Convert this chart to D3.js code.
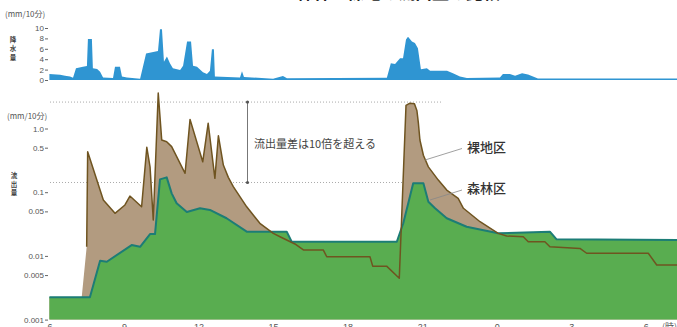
<!DOCTYPE html>
<html>
<head>
<meta charset="utf-8">
<script src="https://cdn.jsdelivr.net/npm/d3@7"></script>
<style>
  html, body { margin: 0; padding: 0; background: #ffffff; }
  svg { display: block; font-family: "Noto Sans CJK JP", "Noto Sans", sans-serif; }
</style>
</head>
<body>
<svg id="chart" width="677" height="327"></svg>
<script>
// Time axis: hours elapsed since 6:00 on day one
const hourTicks = [0, 3, 6, 9, 12, 15, 18, 21, 24];
const hourLabels = ["6", "9", "12", "15", "18", "21", "0", "3", "6"];

// Rainfall (mm / 10 min)
const rainHours = [0, 0.43, 0.63, 0.83, 0.95, 1.07, 1.35, 1.51, 1.55, 1.71, 1.75, 1.92, 2.04, 2.16, 2.56, 2.64, 2.84, 2.92, 3.12, 3.65,
  3.89, 4.37, 4.45, 4.53, 4.61, 4.73, 4.85, 4.97, 5.26, 5.38, 5.54, 5.70, 5.78, 5.94, 6.18, 6.34, 6.46, 6.54, 6.62, 6.66,
  7.67, 7.75, 7.83, 9.0, 9.40, 9.56, 13.58, 13.74, 13.91, 14.11, 14.23, 14.35, 14.43, 14.59, 14.71, 14.83, 14.95, 15.19, 15.32,
  16.0, 16.24, 16.52, 16.8, 18.13, 18.25, 18.53, 18.74, 19.02, 19.26, 19.66, 25.3];
const rainValues = [1.15, 1.0, 0.8, 0.65, 0.45, 2.25, 2.55, 2.7, 7.9, 7.9, 2.25, 2.1, 1.6, 0.5, 0.4, 2.55, 2.55, 0.65, 0.5, 0.25,
  5.1, 5.6, 9.75, 9.75, 3.5, 4.5, 3.2, 2.25, 1.9, 2.75, 7.4, 7.4, 2.75, 2.55, 1.5, 1.15, 1.8, 5.9, 5.9, 0.65,
  0.5, 1.7, 0.6, 0.25, 0.75, 0.35, 0.45, 3.2, 3.1, 4.2, 4.2, 7.8, 8.3, 7.4, 7.1, 6.1, 2.05, 2.25, 1.8,
  1.8, 1.3, 0.65, 0.4, 0.5, 1.15, 1.15, 0.8, 1.3, 1.05, 0.3, 0.3];
const rainTicks = [0, 2, 4, 6, 8, 10];

// Runoff (mm / 10 min), bare plot
const bareHours = [0, 1.30, 1.50, 1.54, 2.17, 2.64, 3.04, 3.24, 3.71, 3.92, 4.05, 4.18, 4.38, 4.52, 4.72, 4.92, 5.46, 5.66,
  6.17, 6.39, 6.66, 6.80, 7.00, 7.20, 7.40, 7.94, 8.47, 9.01, 9.28, 9.88, 10.22, 11.02, 11.16, 12.90, 13.01, 13.57, 14.08,
  14.35, 14.51, 14.69, 14.79, 14.85, 14.91, 15.05, 15.25, 15.65, 15.99, 16.45, 16.66, 17.33, 18.06, 18.40, 19.07, 19.27,
  19.94, 20.14, 21.35, 21.62, 24.10, 24.44, 25.3];
const bareValues = [0.00224, 0.00224, 0.0139, 0.43, 0.0755, 0.0466, 0.063, 0.087, 0.059, 0.507, 0.25, 0.0366, 3.6, 0.66, 0.62, 0.52, 0.198, 1.39,
  0.30, 1.21, 0.165, 0.77, 0.267, 0.171, 0.122, 0.059, 0.0325, 0.0226, 0.020, 0.0154, 0.0124, 0.0124, 0.0097, 0.0097, 0.0069, 0.0069, 0.00445,
  2.3, 2.5, 2.45, 1.9, 1.2, 0.66, 0.38, 0.25, 0.155, 0.108, 0.080, 0.0559, 0.0344, 0.0226, 0.0205, 0.0200, 0.0167,
  0.0167, 0.0139, 0.0131, 0.011, 0.011, 0.0072, 0.0072];
const bareRecordStart = 2; // observation line begins with the first runoff record

// Runoff (mm / 10 min), forest plot
const forestHours = [0, 1.63, 2.04, 2.31, 3.31, 3.65, 4.05, 4.25, 4.45, 4.72, 4.92, 5.12, 5.53, 6.06, 6.46, 7.13, 7.94, 9.55, 9.75,
  13.98, 14.24, 14.64, 15.05, 15.25, 15.52, 15.99, 16.79, 18.06, 20.14, 20.41, 25.3];
const forestValues = [0.00224, 0.00224, 0.0084, 0.0081, 0.0148, 0.0139, 0.022, 0.022, 0.159, 0.171, 0.096, 0.067, 0.049, 0.0559, 0.0526, 0.039, 0.024, 0.024, 0.0167,
  0.0167, 0.0325, 0.138, 0.138, 0.071, 0.056, 0.039, 0.0287, 0.0226, 0.024, 0.0182, 0.0178];
const runoffTicks = [1.0, 0.5, 0.1, 0.05, 0.01, 0.005, 0.001];
const runoffTickLabels = ["1.0", "0.5", "0.1", "0.05", "0.01", "0.005", "0.001"];

// Reference levels for the difference bracket
const peakLevels = [2.6, 0.142];

const svg = d3.select("#chart");

const x = d3.scaleLinear().domain([0, 24]).range([49.4, 645.8]);
const yRain = d3.scaleLinear().domain([0, 10]).range([80, 28]);
const yRun = d3.scaleLog().domain([0.001, 1]).range([319.6, 128.5]);

const zip = (hs, vs) => hs.map((h, i) => ({ h, v: vs[i] }));
const rain = zip(rainHours, rainValues);
const bare = zip(bareHours, bareValues);
const forest = zip(forestHours, forestValues);

// Title strip running off the top edge of the page
svg.append("text")
  .attr("x", 296).attr("y", -1)
  .attr("font-size", 17).attr("font-weight", 700).attr("fill", "#222")
  .text("森林と裸地の流出量の比較");

// ---------- Rainfall panel ----------
svg.append("path")
  .datum(rain)
  .attr("fill", "#2f95d2")
  .attr("d", d3.area().x(d => x(d.h)).y0(yRain(0)).y1(d => yRain(d.v)));

const rainAxis = svg.append("g")
  .attr("transform", "translate(48,0)")
  .call(d3.axisLeft(yRain).tickValues(rainTicks).tickSize(3).tickPadding(1).tickFormat(d3.format("d")));
rainAxis.select(".domain").remove();
rainAxis.selectAll("line").attr("stroke", "#666");
rainAxis.selectAll("text").attr("font-size", 8).attr("fill", "#555").attr("font-family", "Liberation Sans, Arial, sans-serif");

svg.append("text").attr("x", 5).attr("y", 17).attr("font-size", 8).attr("fill", "#555").text("(mm/10分)");
["降", "水", "量"].forEach((c, i) =>
  svg.append("text").attr("x", 13).attr("y", 42 + i * 9).attr("text-anchor", "middle")
    .attr("font-size", 6.5).attr("font-weight", 700).attr("fill", "#444").text(c));

// ---------- Runoff panel ----------
// dotted reference levels, drawn beneath the areas
svg.append("line").attr("x1", 50).attr("x2", 442).attr("y1", yRun(peakLevels[0])).attr("y2", yRun(peakLevels[0]))
  .attr("stroke", "#aaa").attr("stroke-width", 1).attr("stroke-dasharray", "1,2");
svg.append("line").attr("x1", 50).attr("x2", 420).attr("y1", yRun(peakLevels[1])).attr("y2", yRun(peakLevels[1]))
  .attr("stroke", "#aaa").attr("stroke-width", 1).attr("stroke-dasharray", "1,2");

const areaGen = d3.area().x(d => x(d.h)).y0(yRun(0.001)).y1(d => yRun(d.v));
const lineGen = d3.line().x(d => x(d.h)).y(d => yRun(d.v));

svg.append("path").datum(bare).attr("fill", "#b29b80").attr("d", areaGen);
svg.append("path").datum(forest).attr("fill", "#59ad50").attr("d", areaGen);
svg.append("path").datum(forest).attr("fill", "none").attr("stroke", "#1c7d76")
  .attr("stroke-width", 2).attr("stroke-linejoin", "round").attr("d", lineGen);
svg.append("path").datum(bare.slice(bareRecordStart)).attr("fill", "none").attr("stroke", "#6f5420")
  .attr("stroke-width", 1.5).attr("stroke-linejoin", "round").attr("d", lineGen);

const runAxis = svg.append("g")
  .attr("transform", "translate(48,0)")
  .call(d3.axisLeft(yRun).tickValues(runoffTicks).tickSize(3).tickPadding(1)
    .tickFormat((d, i) => runoffTickLabels[i]));
runAxis.select(".domain").remove();
runAxis.selectAll("line").attr("stroke", "#666");
runAxis.selectAll("text").attr("font-size", 8).attr("fill", "#555").attr("font-family", "Liberation Sans, Arial, sans-serif");

svg.append("text").attr("x", 7).attr("y", 119).attr("font-size", 8).attr("fill", "#555").text("(mm/10分)");
["流", "出", "量"].forEach((c, i) =>
  svg.append("text").attr("x", 14).attr("y", 178 + i * 8.5).attr("text-anchor", "middle")
    .attr("font-size", 6.5).attr("font-weight", 700).attr("fill", "#444").text(c));

// time axis
const xAxis = svg.append("g")
  .attr("transform", `translate(0,${yRun(0.001)})`)
  .call(d3.axisBottom(x).tickValues(hourTicks).tickSize(0).tickPadding(4)
    .tickFormat((d, i) => hourLabels[i]));
xAxis.select(".domain").remove();
xAxis.selectAll("text").attr("font-size", 9).attr("fill", "#555").attr("font-family", "Liberation Sans, Arial, sans-serif");
svg.append("text").attr("x", 662).attr("y", 330).attr("font-size", 9).attr("fill", "#555").text("(時)");

// difference bracket
const bx = 247.5;
svg.append("line").attr("x1", bx).attr("x2", bx).attr("y1", yRun(peakLevels[0])).attr("y2", yRun(peakLevels[1]))
  .attr("stroke", "#777").attr("stroke-width", 1);
peakLevels.forEach(v => svg.append("circle").attr("cx", bx).attr("cy", yRun(v)).attr("r", 1.6).attr("fill", "#555"));
svg.append("text").attr("x", 254).attr("y", 148).attr("font-size", 11).attr("fill", "#444")
  .text("流出量差は10倍を超える");

// series labels with leader lines
svg.append("line").attr("x1", 462).attr("y1", 148.5).attr("x2", 425).attr("y2", 160).attr("stroke", "#888").attr("stroke-width", 0.8);
svg.append("text").attr("x", 467).attr("y", 152).attr("font-size", 13).attr("font-weight", 500).attr("fill", "#333").text("裸地区");
svg.append("line").attr("x1", 462).attr("y1", 190).attr("x2", 430).attr("y2", 200).attr("stroke", "#888").attr("stroke-width", 0.8);
svg.append("text").attr("x", 467).attr("y", 193).attr("font-size", 13).attr("font-weight", 500).attr("fill", "#333").text("森林区");
</script>
</body>
</html>
